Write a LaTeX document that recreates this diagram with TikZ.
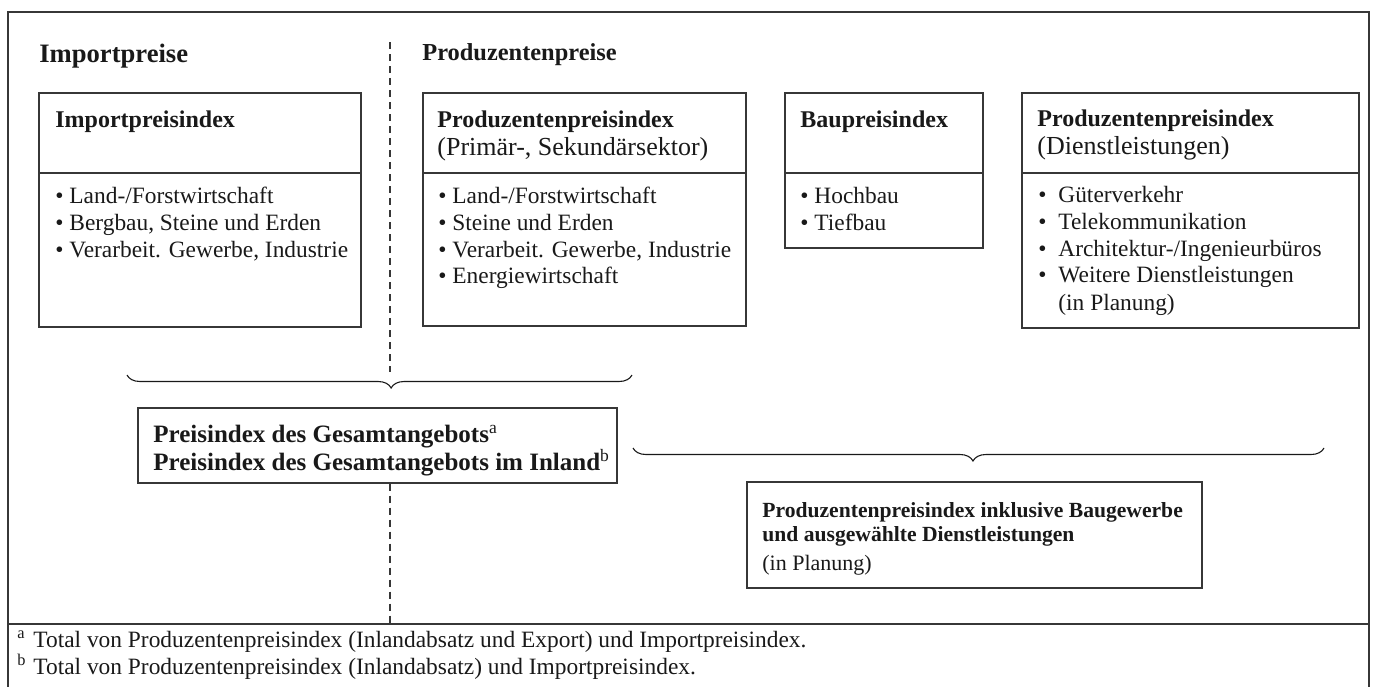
\documentclass[tikz,border=0pt]{standalone}
\usepackage{fontspec}
\setmainfont{Liberation Serif}
\usetikzlibrary{fit,decorations.pathreplacing}

\definecolor{rulegray}{RGB}{55,55,55}
\definecolor{inkgray}{RGB}{25,25,25}

\tikzset{
  txt/.style={anchor=base west, inner sep=0pt, text=inkgray, font=\fontsize{11.7}{13}\selectfont},
  sub/.style={txt, font=\fontsize{13}{15}\selectfont},
  ttl/.style={txt, font=\fontsize{12}{14}\selectfont\bfseries},
  panel/.style={draw=rulegray, line width=0.65pt, inner sep=0pt},
  divide/.style={draw=rulegray, line width=0.65pt},
  frame/.style={draw=rulegray, line width=0.75pt},
  splitline/.style={draw=rulegray, line width=0.6pt, dash pattern=on 3.5pt off 2.5pt},
  bracket/.style={decorate, decoration={brace, mirror, amplitude=6.5pt, aspect=#1},
    draw=inkgray, line width=0.55pt},
}

\begin{document}
\begin{tikzpicture}[x=0.5pt, y=-0.5pt]
  \useasboundingbox (0,0) rectangle (1374,686);
  \coordinate (frbl) at (8,692);
  \coordinate (frtl) at (8,12);
  \coordinate (frtr) at (1369,12);
  \coordinate (frbr) at (1369,692);
  \coordinate (sepl) at (8,624);
  \coordinate (sepr) at (1369,624);
  \draw[frame] (frbl) -- (frtl) -- (frtr) -- (frbr);
  \draw[frame] (sepl) -- (sepr);

  \node[txt, font=\fontsize{13.3}{15}\selectfont\bfseries] (hdimp) at (39,62) {Importpreise};
  \node[txt, font=\fontsize{12.2}{14}\selectfont\bfseries] (hdprod) at (422,60) {Produzentenpreise};

  \node[panel, fit={(39,93) (361,327)}] (imp) {};
  \node[panel, fit={(423,93) (746,326)}] (ppi) {};
  \node[panel, fit={(785,93) (983,248)}] (bau) {};
  \node[panel, fit={(1022,93) (1359,328)}] (dl) {};
  \coordinate (divy) at (0,173);
  \foreach \b in {imp,ppi,bau,dl}
    \draw[divide] (\b.west |- divy) -- (\b.east |- divy);

  \node[ttl] (imp-t) at (55,127) {Importpreisindex};
  \node[ttl] (ppi-t) at (437,127) {Produzentenpreisindex};
  \node[sub] (ppi-s) at (437,155) {(Primär-, Sekundärsektor)};
  \node[ttl] (bau-t) at (800,127) {Baupreisindex};
  \node[ttl] (dl-t) at (1037,126) {Produzentenpreisindex};
  \node[sub] (dl-s) at (1037,154) {(Dienstleistungen)};

  \foreach \txt [count=\i] in {Land-/Forstwirtschaft, {Bergbau, Steine und Erden},
      {Verarbeit. Gewerbe, Industrie}}
    \node[txt] (imp-\i) at (55,{177+26.7*\i}) {\textbullet\ \txt};
  \foreach \txt [count=\i] in {Land-/Forstwirtschaft, Steine und Erden,
      {Verarbeit. Gewerbe, Industrie}, Energiewirtschaft}
    \node[txt] (ppi-\i) at (438,{177+26.7*\i}) {\textbullet\ \txt};
  \foreach \txt [count=\i] in {Hochbau, Tiefbau}
    \node[txt] (bau-\i) at (800,{177+26.7*\i}) {\textbullet\ \txt};
  \foreach \txt [count=\i] in {Güterverkehr, Telekommunikation,
      Architektur-/Ingenieurbüros, Weitere Dienstleistungen}
    \node[txt] (dl-\i) at (1038,{176+26.7*\i}) {\makebox[10pt][l]{\textbullet}\txt};
  \node[txt] (dl-5) at (1058,310) {(in Planung)};

  \coordinate (b1l) at (127,375);
  \coordinate (b1r) at (632,375);
  \coordinate (b2l) at (633,448);
  \coordinate (b2r) at (1324,448);
  \draw[bracket=0.523] (b1l) -- (b1r);
  \draw[bracket=0.492] (b2l) -- (b2r);

  \node[panel, fit={(138,408) (617,483)}] (ges) {};
  \node[txt, font=\fontsize{12.5}{14}\selectfont\bfseries] (ges-1) at (153,442)
    {Preisindex des Gesamtangebots\textsuperscript{\mdseries a}};
  \node[txt, font=\fontsize{12.5}{14}\selectfont\bfseries] (ges-2) at (153,470)
    {Preisindex des Gesamtangebots im Inland\textsuperscript{\mdseries b}};

  \node[panel, fit={(747,482) (1202,588)}] (pkb) {};
  \node[txt, font=\fontsize{10.8}{12}\selectfont\bfseries] (pkb-1) at (762,517)
    {Produzentenpreisindex inklusive Baugewerbe};
  \node[txt, font=\fontsize{10.8}{12}\selectfont\bfseries] (pkb-2) at (762,541)
    {und ausgewählte Dienstleistungen};
  \node[txt, font=\fontsize{11}{12}\selectfont] (pkb-3) at (762,570) {(in Planung)};

  \coordinate (divtop) at (390,42);
  \coordinate (divbrace) at (390,372);
  \coordinate (divfoot) at (390,624);
  \draw[splitline] (divtop) -- (divbrace);
  \draw[splitline] (ges.south -| divtop) -- (divfoot);

  \node[txt] (fna) at (17,647)
    {\makebox[8pt][l]{\textsuperscript{a}}Total von Produzentenpreisindex (Inlandabsatz und Export) und Importpreisindex.};
  \node[txt] (fnb) at (17,674)
    {\makebox[8pt][l]{\textsuperscript{b}}Total von Produzentenpreisindex (Inlandabsatz) und Importpreisindex.};
\end{tikzpicture}
\end{document}
